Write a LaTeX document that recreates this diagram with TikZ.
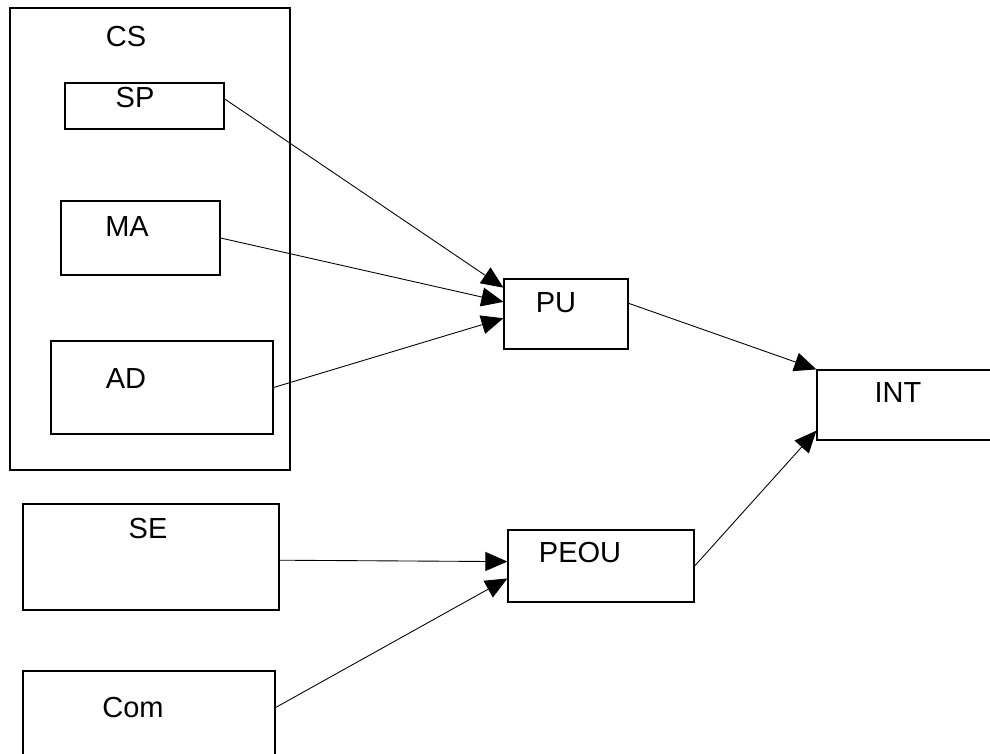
\documentclass[tikz,border=0pt]{standalone}
\usepackage{fontspec}
\setmainfont{Liberation Sans}
\usetikzlibrary{arrows.meta,calc}

\begin{document}
\begin{tikzpicture}[
    box/.style={draw, line width=0.7pt, minimum width=#1, inner sep=0pt},
    arr/.style={-{Triangle[length=0.44cm, width=0.38cm]}, line width=0.5pt},
    lbl/.style={anchor=base, inner sep=0pt, font=\fontsize{16.5}{19}\selectfont}
]
\useasboundingbox (0,0) rectangle (19.8,-15.08);
\clip (0,0) rectangle (19.8,-15.08);

% boxes
\node[box=5.6cm, minimum height=9.24cm] (cs) at (3.0,-4.78) {};
\node[box=3.18cm, minimum height=0.92cm] (sp) at (2.89,-2.12) {};
\node[box=3.18cm, minimum height=1.48cm] (ma) at (2.81,-4.76) {};
\node[box=4.44cm, minimum height=1.86cm] (ad) at (3.24,-7.75) {};
\node[box=2.48cm, minimum height=1.4cm] (pu) at (11.32,-6.28) {};
\node[box=3.86cm, minimum height=1.4cm] (int) at (18.27,-8.1) {};
\node[box=5.12cm, minimum height=2.12cm] (se) at (3.02,-11.14) {};
\node[box=3.72cm, minimum height=1.44cm] (peou) at (12.02,-11.32) {};
\node[box=5.04cm, minimum height=2.16cm] (com) at (2.98,-14.5) {};

% labels
\node[lbl] (cs-t) at (2.52,-0.94) {CS};
\node[lbl] (sp-t) at (2.7,-2.16) {SP};
\node[lbl] (ma-t) at (2.54,-4.74) {MA};
\node[lbl] (ad-t) at (2.52,-7.78) {AD};
\node[lbl] (pu-t) at (11.12,-6.26) {PU};
\node[lbl] (int-t) at (17.96,-8.06) {INT};
\node[lbl] (se-t) at (2.96,-10.76) {SE};
\node[lbl] (peou-t) at (11.6,-11.26) {PEOU};
\node[lbl] (com-t) at (2.66,-14.34) {Com};

% connectors
\draw[arr] ($(sp.north east)!0.35!(sp.south east)$) -- ($(pu.north west)!0.13!(pu.south west)$);
\draw[arr] (ma.east) -- ($(pu.north west)!0.33!(pu.south west)$);
\draw[arr] (ad.east) -- ($(pu.north west)!0.56!(pu.south west)$);
\draw[arr] ($(pu.north east)!0.35!(pu.south east)$) -- (int.north west);
\draw[arr] ($(se.north east)!0.53!(se.south east)$) -- ($(peou.north west)!0.44!(peou.south west)$);
\draw[arr] ($(com.north east)!0.34!(com.south east)$) -- ($(peou.north west)!0.67!(peou.south west)$);
\draw[arr] (peou.east) -- ($(int.north west)!0.86!(int.south west)$);
\end{tikzpicture}
\end{document}
